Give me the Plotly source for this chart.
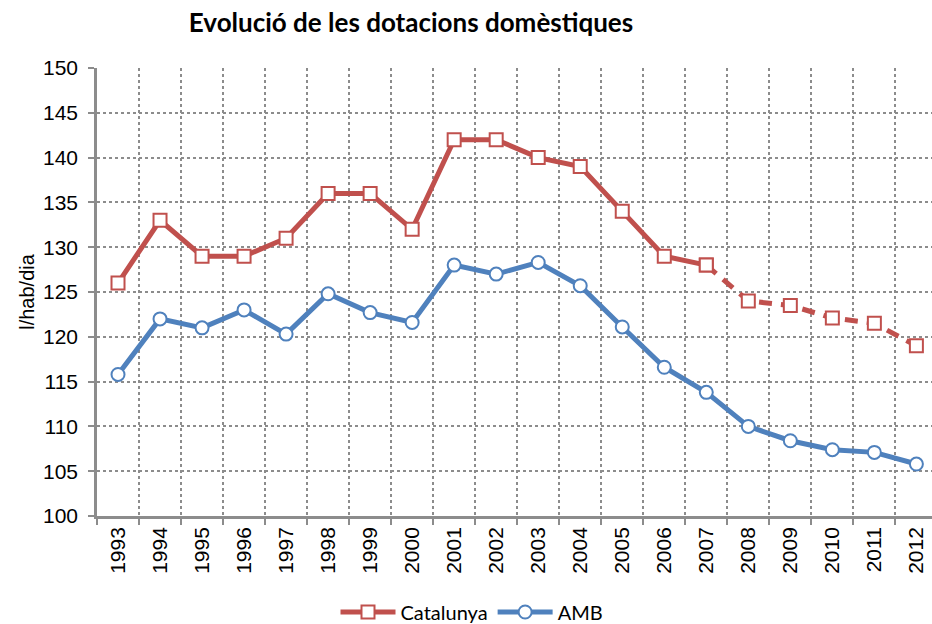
import plotly.graph_objects as go

years = [str(y) for y in range(1993, 2013)]
catalunya = [126, 133, 129, 129, 131, 136, 136, 132, 142, 142, 140, 139, 134, 129, 128,
             124, 123.5, 122.1, 121.5, 119]
amb = [115.8, 122, 121, 123, 120.3, 124.8, 122.7, 121.6, 128, 127, 128.3, 125.7, 121.1,
       116.6, 113.8, 110, 108.4, 107.4, 107.1, 105.8]
solid_end = 15  # solid through 2007, dashed afterwards
y_ticks = [100, 105, 110, 115, 120, 125, 130, 135, 140, 145, 150]

RED = "#C0504D"
BLUE = "#4F81BD"
GRID = "#8C8C8C"
AXIS = "#8C8C8C"

fig = go.Figure()

fig.add_trace(go.Scatter(
    x=years[:solid_end], y=catalunya[:solid_end], name="Catalunya",
    mode="lines+markers",
    line=dict(color=RED, width=5),
    marker=dict(symbol="square", size=13, color="white", line=dict(color=RED, width=2)),
))
fig.add_trace(go.Scatter(
    x=years[solid_end - 1:], y=catalunya[solid_end - 1:], name="Catalunya",
    mode="lines+markers", showlegend=False,
    line=dict(color=RED, width=5, dash="13px,9px"),
    marker=dict(symbol="square", size=13, color="white", line=dict(color=RED, width=2)),
))
fig.add_trace(go.Scatter(
    x=years, y=amb, name="AMB",
    mode="lines+markers",
    line=dict(color=BLUE, width=5),
    marker=dict(symbol="circle", size=13, color="white", line=dict(color=BLUE, width=2)),
))

W, H = 932, 624
ml, mr, mt, mb = 97, 0, 68, 108
cat_w = 42.02
x_end = -0.5 + (W - ml - mr) / cat_w

fig.update_layout(
    width=W, height=H,
    margin=dict(l=ml, r=mr, t=mt, b=mb, pad=0, autoexpand=False),
    paper_bgcolor="white", plot_bgcolor="white",
    font=dict(family="Liberation Sans, Arial, sans-serif", size=21, color="black"),
    title=dict(
        text="<b>Evolució de les dotacions domèstiques</b>",
        font=dict(family="Lato, Open Sans, sans-serif", size=26, color="black"),
        x=411 / W, xanchor="center", xref="container",
        y=1 - 23 / H, yanchor="middle", yref="container",
    ),
    xaxis=dict(
        type="category",
        range=[-0.5, x_end],
        tickson="boundaries",
        ticks="outside", ticklen=6, tickcolor=AXIS, tickwidth=1.5,
        tickangle=-90,
        showgrid=True, gridcolor=GRID, griddash="dot", gridwidth=1.5,
        showline=True, linecolor=AXIS, linewidth=2.5,
        tickfont=dict(size=21),
        zeroline=False,
        automargin=False,
    ),
    yaxis=dict(
        range=[100, 150],
        tickvals=y_ticks,
        ticks="outside", ticklen=6, tickcolor=AXIS, tickwidth=1.5,
        showgrid=True, gridcolor=GRID, griddash="dot", gridwidth=1.5,
        showline=True, linecolor=AXIS, linewidth=2.5,
        tickfont=dict(size=21),
        ticklabelstandoff=6,
        title=dict(text="l/hab/dia", font=dict(size=20), standoff=4),
        zeroline=False,
        automargin=False,
    ),
    legend=dict(
        orientation="h",
        x=472 / W, xanchor="center", xref="container",
        y=1 - 612 / H, yanchor="middle", yref="container",
        font=dict(family="Lato, Open Sans, sans-serif", size=20),
        itemwidth=55,
        traceorder="normal",
    ),
    showlegend=True,
)

fig.write_html(
    "out.html",
    config={"displayModeBar": False},
    post_script="document.body.style.margin='0';document.body.style.padding='0';",
)
